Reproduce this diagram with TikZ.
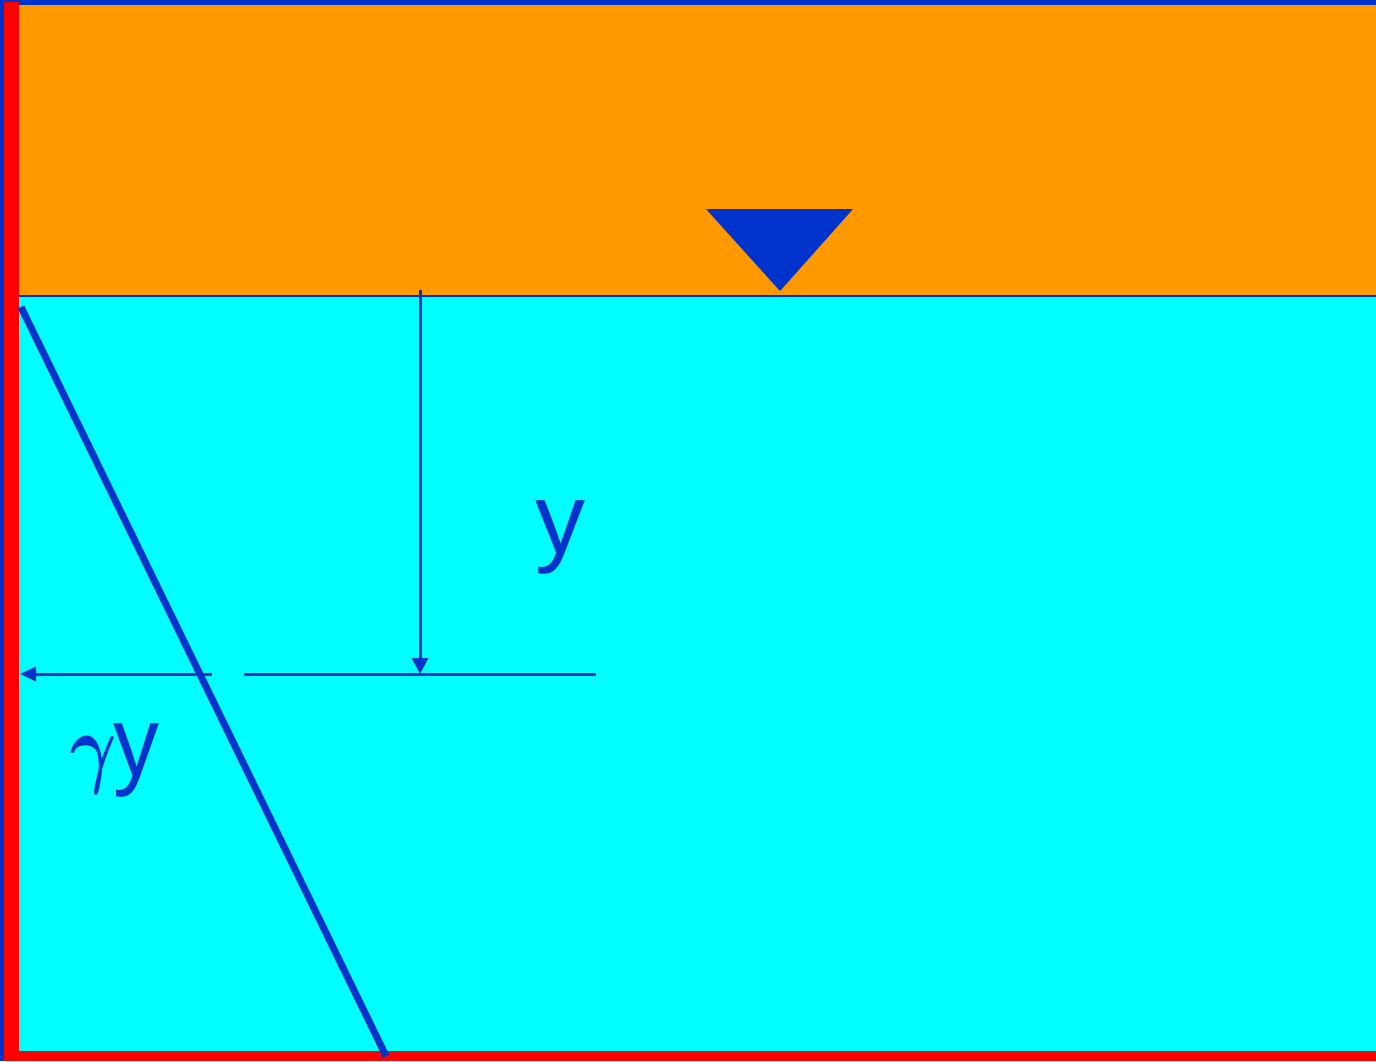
\documentclass[tikz,border=0pt]{standalone}
\usepackage{graphicx}
\usepackage{fontspec}
\setmainfont{Liberation Serif}
\newfontfamily\labsans{Liberation Sans}
\usetikzlibrary{arrows.meta}
\definecolor{cblue}{HTML}{0033CC}
\definecolor{corange}{HTML}{FF9900}
\definecolor{ccyan}{HTML}{00FFFF}
\definecolor{cred}{HTML}{FF0000}
\tikzset{
  thinline/.style={draw=cblue, line width=3pt},
  thickline/.style={draw=cblue, line width=7pt},
  lab/.style={text=cblue, inner sep=0pt, font=\fontsize{100}{100}\selectfont\labsans},
  tipv/.style={-{Triangle[width=16pt,length=16pt]}},
}
\begin{document}
\begin{tikzpicture}[x=1pt,y=-1pt]
\useasboundingbox (0,0) rectangle (1376,1061);
% background regions
\fill[ccyan] (0,0) rectangle (1376,1061);
\fill[corange] (4,5) rectangle (1376,295);
\fill[cblue] (19,294.5) rectangle (1376,297);
\fill[cred] (19,1051) rectangle (1376,1061);
\fill[cblue] (0,0) rectangle (1376,5);
\fill[cblue] (0,0) rectangle (4,1061);
\fill[cred] (4,2) rectangle (19,1061);
% free surface triangle
\coordinate (tA) at (706,209);
\coordinate (tB) at (853,209);
\coordinate (tC) at (780,291);
\fill[cblue] (tA) -- (tB) -- (tC) -- cycle;
% pressure distribution line
\coordinate (dTop) at (21,307);
\coordinate (dBot) at (386,1056);
\draw[thickline] (dTop) -- (dBot);
% depth arrow
\coordinate (vTop) at (420,290);
\coordinate (vBot) at (420,674);
\draw[thinline, tipv] (vTop) -- (vBot);
% depth level line
\coordinate (hL) at (244,674);
\coordinate (hR) at (596,674);
\draw[thinline] (hL) -- (hR);
% pressure arrow
\coordinate (pR) at (212,674);
\coordinate (pL) at (20,674);
\draw[thinline, -{Triangle[width=14pt,length=16pt]}] (pR) -- (pL);
% labels
\node[lab, anchor=base] (ylab) at (560,553) {y};
\node[lab, anchor=base west] (gylab) at (70,776) {\scalebox{2.85}[3.6]{\boldmath$\gamma$}\kern-3pt\scalebox{0.92}[1]{y}};
\end{tikzpicture}
\end{document}
